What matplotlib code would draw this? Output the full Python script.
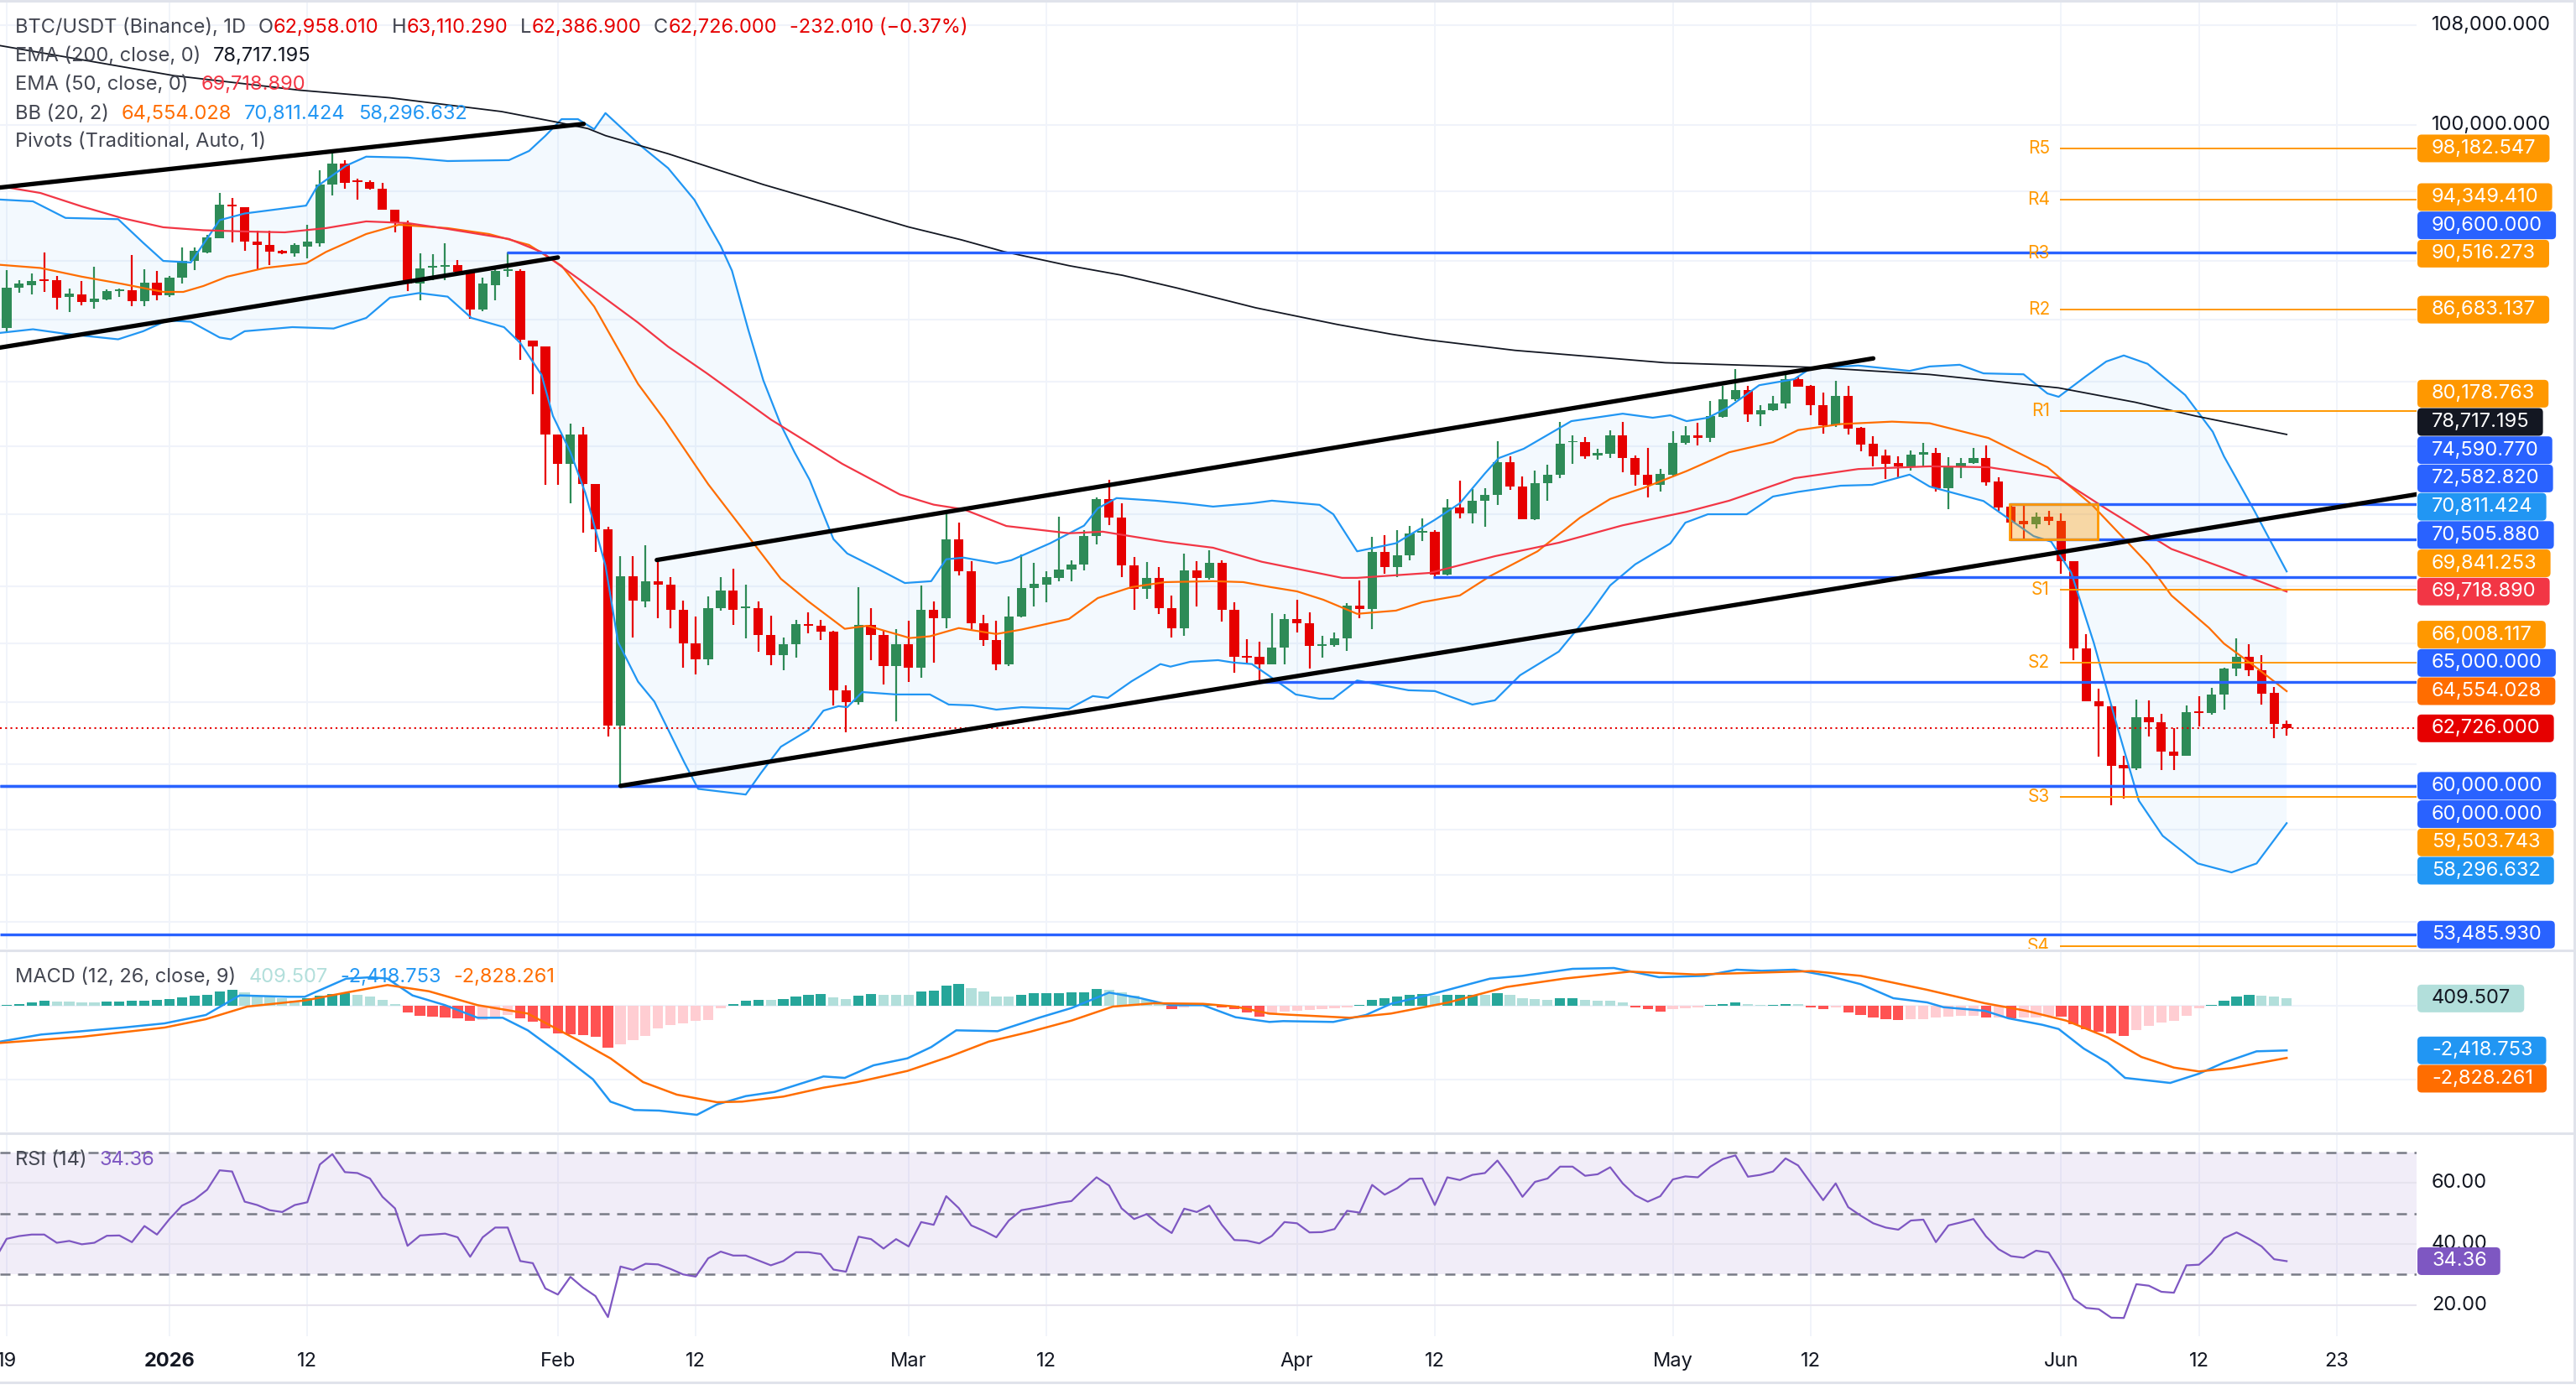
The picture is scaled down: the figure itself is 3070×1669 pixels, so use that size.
import numpy as np
import matplotlib.pyplot as plt
from matplotlib.patches import FancyBboxPatch, Rectangle
from matplotlib.lines import Line2D
from matplotlib.transforms import IdentityTransform

plt.rcParams['font.family'] = ['Inter', 'DejaVu Sans']

# ---------------- data ----------------
# daily candles, day 0 = 19 Dec 2025 ... day 182 = 19 Jun 2026
opens = [85466, 88175, 88365, 88740, 88680, 87555, 87710, 87195, 87380, 87925,
         88010, 87255, 88515, 87645, 88880, 89985, 90625, 91580, 93990, 93830,
         91385, 91100, 90720, 90525, 91035, 91260, 95460, 97050, 95760, 95660,
         95190, 93635, 92650, 88425, 89550, 89615, 89710, 89335, 86675, 88365,
         89300, 89330, 84660, 84275, 78695, 76950, 78695, 75765, 73140, 62870,
         70560, 69210, 70290, 70075, 68760, 67000, 66180, 68820, 69775, 68820,
         68850, 67435, 66395, 66930, 67970, 67900, 67580, 64585, 64000, 67940,
         67405, 65810, 66930, 65740, 68760, 68290, 72605, 70840, 68045, 67175,
         65890, 68380, 69910, 70110, 70475, 70900, 71210, 72760, 74885, 73835,
         71160, 69880, 70445, 68835, 67790, 70870, 70475, 71270, 68760, 66340,
         66300, 65920, 66760, 68235, 68045, 66840, 66900, 67230, 68986, 68790,
         71870, 71060, 71715, 72980, 73020, 70640, 74395, 74075, 74770, 75100,
         77050, 75600, 73715, 75800, 76305, 78230, 78230, 77430, 77550, 78665,
         77315, 76320, 75715, 76320, 78185, 78665, 78530, 79800, 80870, 81465,
         79940, 80190, 80640, 82170, 81725, 80500, 79270, 81115, 79100, 78135,
         77435, 76990, 76800, 77515, 77615, 75530, 76740, 76985, 77290, 75895,
         74445, 73620, 73440, 73850, 73620, 71375, 66723, 64070, 63800, 60975,
         60830, 63250, 63020, 61620, 61425, 63535, 63470, 64390, 65685, 66305,
         65605, 64470, 62958.01]
highs = [89363, 88675, 89115, 90612, 88955, 88110, 88610, 89610, 88050, 88110,
         90400, 89425, 89330, 88975, 90944, 90944, 91835, 94860, 94525, 93830,
         92160, 92160, 90780, 91260, 92530, 96540, 97975, 97290, 95930, 95760,
         95590, 93635, 92880, 90555, 90460, 91240, 90055, 89335, 88880, 89520,
         90620, 89425, 84660, 84275, 78695, 79360, 79165, 75765, 73280, 71660,
         71630, 72260, 71490, 70490, 69240, 68380, 69480, 70490, 70940, 70110,
         69180, 68420, 67290, 68230, 68620, 68190, 67650, 64860, 69955, 68820,
         67690, 67720, 68160, 70030, 69210, 73995, 73515, 71365, 68480, 68160,
         69465, 71730, 71300, 70800, 73870, 71420, 73125, 74965, 76020, 74645,
         71610, 71335, 71050, 69525, 71810, 71365, 71975, 71420, 69135, 67220,
         67070, 68570, 68530, 69285, 68610, 67360, 67540, 69090, 70335, 72750,
         72810, 73130, 73365, 73760, 73100, 74880, 75970, 75450, 75490, 78300,
         77400, 76180, 76550, 76905, 79465, 78665, 78565, 77850, 78990, 79465,
         77435, 77880, 76635, 78920, 79215, 79430, 80765, 81725, 82810, 81725,
         80540, 81115, 82475, 82350, 81760, 81285, 82040, 81705, 79180, 78615,
         77800, 77400, 77765, 78185, 77900, 77340, 77300, 77900, 78055, 76145,
         74595, 74500, 74130, 74220, 74040, 71375, 67470, 64680, 63880, 61400,
         64145, 64115, 63440, 62745, 63850, 64310, 64715, 65735, 67265, 66935,
         66390, 64765, 63110.29]
lows = [85230, 87825, 87705, 87895, 86675, 86520, 86980, 86770, 87290, 87560,
        86890, 86890, 87290, 87555, 88425, 89400, 90560, 91580, 91320, 90740,
        89370, 89740, 90460, 90305, 90180, 91035, 94690, 95190, 94360, 95120,
        93635, 92000, 87955, 87330, 88675, 88675, 89115, 86065, 86580, 87330,
        88900, 83390, 81175, 75710, 75710, 74660, 72945, 71870, 62330, 60050,
        67275, 68880, 68290, 67790, 65720, 65400, 65860, 68690, 67940, 67260,
        66570, 65860, 65600, 66240, 67500, 67170, 63860, 62525, 63890, 66110,
        64890, 63045, 65035, 65220, 65990, 67750, 70610, 67715, 66860, 65600,
        65830, 68330, 68940, 69165, 70290, 70290, 70870, 72290, 73395, 70490,
        68760, 69330, 68530, 67305, 67390, 68910, 70380, 68140, 65500, 65890,
        64970, 65890, 65920, 67535, 65690, 66270, 66800, 66600, 68285, 67720,
        70690, 70490, 71410, 72500, 70410, 70600, 73750, 73485, 73315, 74530,
        75440, 73715, 73670, 74800, 76105, 76970, 77270, 77185, 77300, 76455,
        75665, 74960, 75340, 76270, 78100, 78070, 78275, 79765, 80765, 79500,
        79210, 80150, 80290, 81690, 79890, 78780, 79180, 78690, 77690, 76800,
        76070, 76100, 76550, 76790, 75340, 74320, 76125, 76950, 75660, 74225,
        72535, 72535, 73220, 73400, 70700, 66140, 64035, 61355, 59090, 59425,
        60720, 62345, 60720, 60720, 61400, 62810, 63390, 63630, 65330, 65330,
        63875, 62240, 62386.9]
closes = [88175, 88425, 88645, 88615, 87500, 87740, 87195, 87440, 87925, 88050,
          87255, 88515, 87645, 88880, 89985, 90720, 91645, 93990, 93860, 91385,
          91100, 90650, 90525, 91100, 91385, 95460, 97050, 95590, 95660, 95190,
          93635, 92650, 88425, 89490, 89680, 89740, 89270, 86675, 88425, 89300,
          89425, 84690, 84275, 78695, 76950, 78695, 75765, 73140, 62870, 70560,
          69220, 70290, 70075, 68760, 67000, 66180, 68820, 69775, 68760, 68880,
          67435, 66395, 66930, 67970, 67900, 67580, 64585, 64000, 67940, 67405,
          65810, 66930, 65740, 68760, 68290, 72605, 70840, 68045, 67175, 65890,
          68380, 69910, 70140, 70490, 70930, 71210, 72760, 74885, 73835, 71160,
          69880, 70445, 68835, 67790, 70870, 70475, 71270, 68760, 66300, 66270,
          65920, 66760, 68235, 68045, 66840, 66900, 67230, 68986, 68790, 71870,
          71060, 71715, 72915, 73055, 70640, 74395, 74075, 74770, 75100, 77050,
          75600, 73715, 75800, 76305, 78150, 78300, 77400, 77600, 78665, 77315,
          76320, 75715, 76355, 78185, 78665, 78530, 79840, 80887, 81465, 79940,
          80190, 80640, 82170, 81690, 80500, 79270, 81115, 79060, 78100, 77400,
          76940, 76800, 77515, 77630, 75530, 76740, 76985, 77290, 75845, 74410,
          73545, 73440, 73850, 73630, 71375, 66723, 64070, 63800, 60948, 60830,
          63250, 63020, 61620, 61425, 63535, 63470, 64390, 65685, 66305, 65605,
          64440, 62958, 62726]

# indicator readings (day, value)
ema200_day = [-0.53, 13.3, 23.4, 30.6, 39.5, 43.9, 46.4, 47.8, 52.8, 60.4, 66.9, 72.0, 76.2,
              79.6, 84.8, 89.1, 93.4, 99.7, 106.2, 110.5, 113.3, 120.4, 132.4, 144.4, 153.5,
              163.8, 169.9, 174.7, 182]
ema200_val = [106300, 103870, 102700, 102100, 101020, 100200, 99700, 99160, 97780, 95480,
              93750, 92400, 91490, 90660, 89680, 89010, 88150, 86810, 85700, 85060, 84700,
              84000, 83200, 82900, 82450, 81600, 80700, 79850, 78717.195]

ema50_day = [-0.53, 2.7, 6.0, 9.2, 12.5, 15.7, 19.0, 22.2, 25.5, 28.7, 32.0, 35.2, 40.1, 42.7,
             46.2, 50.4, 52.8, 55.9, 61.0, 66.7, 71.3, 74.0, 76.4, 79.8, 84.8, 87.5, 92.5, 96.3,
             100.2, 106.6, 107.8, 113.6, 118.8, 123.9, 129.0, 134.1, 137.5, 142.7, 147.8, 153.5,
             158.2, 163.8, 167.6, 172.8, 177.0, 182]
ema50_val = [95360, 94860, 93880, 93040, 92380, 92170, 92080, 92020, 92320, 92800, 92680, 92260,
             91550, 90630, 88430, 85820, 84240, 82520, 79630, 76950, 75150, 74560, 74290, 73340,
             72930, 73020, 72450, 72120, 71340, 70460, 70460, 70730, 71650, 72400, 73380, 74150,
             74790, 76100, 76640, 76800, 76750, 76100, 74320, 72050, 71000, 69718.89]

bb_mid_day = [-0.53, 2.7, 6.0, 9.2, 12.5, 14.1, 15.7, 17.6, 20.6, 23.9, 25.5, 28.7, 31.3, 35.2,
              38.5, 41.7, 44.3, 46.9, 50.4, 52.5, 56.0, 61.8, 64.0, 66.9, 68.7, 72.1, 73.7, 76.0,
              79.0, 81.0, 84.8, 87.1, 89.8, 92.5, 96.3, 98.7, 100.9, 103.0, 105.1, 107.8, 110.9,
              113.0, 116.0, 118.4, 122.2, 125.6, 128.0, 130.7, 134.1, 137.5, 141.0, 143.0, 146.4,
              150.5, 153.5, 158.2, 162.9, 166.5, 171.0, 172.8, 175.8, 177.0, 179.4, 182]
bb_mid_val = [89740, 89520, 88920, 88430, 87880, 87880, 88280, 88920, 89520, 89840, 90640, 91900,
              92560, 92320, 91900, 91130, 89670, 86890, 81850, 79630, 75750, 70410, 69190, 67740,
              67900, 67260, 67350, 67780, 67470, 67700, 68260, 69370, 69960, 70230, 70280, 70230,
              69960, 69730, 69280, 68530, 68700, 69150, 69510, 70550, 71920, 73820, 74890, 75540,
              76520, 77640, 78250, 78980, 79350, 79500, 79400, 78500, 76750, 74520, 71180, 69510,
              67790, 66970, 65830, 64554.028]

bb_up_day = [-0.53, 2.1, 4.7, 8.9, 10.9, 12.5, 14.7, 17.0, 19.0, 23.9, 24.8, 27.1, 28.7, 32.0,
             35.2, 40.1, 41.7, 43.0, 44.3, 45.6, 46.9, 47.8, 50.6, 52.8, 54.9, 57.0, 57.9, 59.2,
             60.4, 61.8, 62.9, 64.1, 65.2, 66.0, 67.1, 69.4, 71.7, 73.8, 75.0, 76.4, 79.0, 80.2,
             83.3, 86.0, 87.1, 88.6, 91.7, 94.0, 96.3, 99.4, 101.0, 104.8, 105.9, 107.8, 110.9,
             114.0, 116.0, 118.0, 119.1, 121.1, 124.9, 129.0, 131.4, 132.8, 134.1, 135.8, 137.5,
             139.9, 142.7, 144.0, 147.8, 151.9, 153.5, 155.9, 157.8, 161.0, 162.9, 163.8, 166.0,
             167.6, 169.0, 170.9, 173.9, 176.1, 177.0, 179.4, 182]
bb_up_val = [94380, 94250, 93050, 92960, 91280, 90010, 89900, 92890, 93370, 93940, 95360, 96880,
             97560, 97490, 97230, 97300, 97990, 99140, 100430, 100430, 99650, 100900, 98400, 96700,
             94360, 91050, 89330, 85350, 82080, 79300, 77630, 76000, 74010, 72600, 71800, 71000,
             70180, 70280, 71480, 71570, 71250, 71430, 72370, 73360, 74350, 74940, 74790, 74640,
             74450, 74640, 74790, 74550, 74010, 71920, 72370, 73690, 74640, 76380, 77290, 77850,
             79530, 79990, 79740, 79890, 79530, 79740, 80410, 81770, 82150, 82850, 83020, 82680,
             82960, 83070, 82520, 82460, 81250, 81040, 82350, 83280, 83670, 83130, 81150, 78880,
             77390, 74240, 70811.424]

bb_lo_day = [-0.53, 2.1, 4.7, 8.9, 10.9, 12.8, 14.7, 17.0, 17.9, 19.0, 22.8, 26.1, 28.7, 30.6,
             32.9, 35.2, 37.1, 39.7, 41.0, 42.7, 43.6, 45.0, 46.2, 47.8, 48.8, 50.4, 51.7, 54.1,
             55.2, 59.0, 60.2, 61.8, 64.0, 65.2, 66.4, 67.1, 68.3, 71.0, 73.7, 75.2, 77.1, 79.0,
             81.0, 84.8, 86.7, 87.9, 89.8, 92.1, 92.9, 94.5, 96.7, 97.9, 99.4, 101.4, 102.9, 104.8,
             105.9, 107.8, 111.9, 114.0, 117.0, 118.8, 120.8, 123.9, 126.3, 128.0, 130.0, 132.8,
             134.0, 135.8, 138.9, 141.0, 143.0, 146.4, 148.9, 151.9, 153.5, 157.8, 159.4, 161.8,
             163.2, 164.8, 166.6, 168.5, 170.2, 172.1, 174.9, 177.6, 179.6, 182]
bb_lo_val = [85140, 85380, 85080, 84720, 85250, 85960, 85880, 84840, 84720, 85250, 85520, 85430,
             86130, 87490, 87800, 87560, 86130, 85520, 84480, 82420, 79860, 77650, 75220, 71130,
             67060, 65030, 64040, 61090, 59860, 59600, 60590, 61840, 62640, 63590, 63810, 63760,
             64510, 64390, 64390, 63890, 63850, 63640, 63760, 63680, 64310, 64220, 65050, 65920,
             65790, 66040, 66120, 66000, 65920, 65050, 64390, 64180, 64180, 65090, 64600, 64560,
             63890, 64100, 65350, 66560, 68470, 70050, 71200, 72360, 73530, 74010, 74010, 75030,
             75300, 75660, 75710, 76310, 75610, 74770, 73960, 72770, 72460, 70750, 67020, 62760,
             59320, 57730, 56510, 56120, 56510, 58296.632]

macd_day = [-0.5, 2.75, 6.0, 9.3, 12.6, 15.9, 18.6, 22.5, 23.8, 27.1, 29.1, 30.4, 32.4, 35.0,
            37.6, 39.6, 41.6, 44.2, 46.8, 48.2, 50.1, 52.1, 55.1, 56.7, 59.0, 61.3, 65.2, 66.9,
            69.2, 71.9, 73.8, 75.8, 79.1, 82.4, 85.0, 88.0, 90.3, 92.9, 95.5, 98.1, 100.8, 101.9,
            105.9, 108.5, 110.5, 113.8, 118.4, 121.0, 125.0, 128.3, 131.9, 135.5, 138.1, 140.1,
            142.7, 145.4, 148.0, 150.6, 153.3, 154.6, 157.9, 159.8, 162.5, 163.8, 165.8, 167.7,
            169.1, 172.7, 175.0, 177.0, 179.6, 182.0]
macd_val = [-1937, -1553, -1371, -1174, -946, -489, 576, 502, 502, 1489, 1567, 1489, 576, 46,
            -640, -640, -1325, -2622, -3992, -5208, -5664, -5696, -5925, -5363, -4906, -4678,
            -3837, -3915, -3230, -2850, -2238, -1325, -1371, -640, -110, 731, 457, 46, 46, -612,
            -868, -822, -868, -489, 119, 653, 1489, 1644, 2024, 2069, 1567, 1644, 1978, 1918, 1978,
            1644, 1188, 425, 196, -64, -260, -671, -1023, -1252, -2316, -3079, -3915, -4189, -3686,
            -3079, -2467, -2418.753]
signal_day = [-0.5, 6.0, 12.6, 15.9, 19.2, 23.8, 27.1, 30.4, 33.7, 37.6, 41.6, 45.6, 48.2, 50.8,
              53.5, 56.7, 58.7, 62.0, 65.2, 67.9, 71.9, 75.2, 78.4, 81.7, 85.0, 88.3, 91.6, 95.5,
              98.1, 100.8, 101.9, 107.2, 110.5, 115.1, 119.7, 124.3, 129.6, 134.8, 138.8, 144.1,
              148.0, 153.3, 157.9, 161.2, 164.4, 167.7, 170.4, 173.0, 175.0, 177.6, 182.0]
signal_val = [-2010, -1676, -1174, -717, -32, 301, 731, 1142, 804, 46, -411, -1859, -2850, -4143,
              -4828, -5239, -5208, -4933, -4449, -4143, -3536, -2773, -1937, -1402, -795, -32, 151,
              119, -32, -411, -457, -640, -411, 196, 1032, 1489, 1873, 1718, 1795, 1900, 1644, 882,
              151, -260, -795, -1708, -2773, -3353, -3563, -3380, -2828.261]
# histogram, one bar per candle
hist = [46, 122, 198, 274, 244, 240, 213, 198, 244, 250, 274, 305, 320, 396, 457, 548, 624, 807,
        883, 731, 579, 503, 426, 274, 426, 548, 655, 700, 609, 503, 350, 122,
        -335, -518, -579, -640, -650, -822, -761, -609, -487, -670, -868, -1203, -1477, -1553,
        -1584, -1675, -2284, -2087, -1858, -1630, -1218, -1020, -944, -822, -761, -107,
        122, 305, 350, 335, 396, 503, 609, 655, 457, 396, 579, 655, 609, 600, 590, 807, 853, 1112,
        1188, 959, 807, 503, 495, 609, 700, 700, 700, 731, 761, 914, 900, 731, 548, 350, 122, -183,
        -61, 46, 122, -61, -183, -366, -564, -487,
        -305, -259, -213, -183, -107, -61, 76, 350, 426, 503, 609, 655, 548, 609, 609, 609, 600,
        700, 609, 426, 381, 350, 426, 426, 335, 305, 274, 183, -76, -183, -305, -183, -122, -76,
        46, 122, 198, 122, 76, 76, 122, 110, -61, -183, -76, -335, -487, -640, -716, -761, -730,
        -700, -640, -580, -550, -520, -640, -640, -670, -640, -610, -520, -560, -975, -1249,
        -1401, -1477, -1630, -1325, -1097, -914, -822, -518, -107, 76, 305, 503, 609, 579, 503,
        409.507]
# RSI(14), one value per day from day -1
rsi = [34.5, 41.7, 42.6, 43.1, 43.1, 40.4, 41.0, 39.9, 40.4, 42.7, 42.8, 40.6, 45.9, 43.1, 48.2,
       52.6, 54.6, 57.8, 64.2, 63.8, 53.9, 52.8, 51.1, 50.5, 52.8, 53.7, 66.1, 69.5, 63.6, 63.3,
       61.5, 55.5, 51.7, 39.4, 42.8, 43.1, 43.4, 42.2, 35.8, 42.2, 45.4, 45.4, 34.4, 33.7, 25.4,
       23.4, 29.2, 25.7, 22.9, 16.0, 32.6, 31.5, 33.5, 33.3, 31.8, 30.0, 29.3, 35.3, 37.5, 36.2,
       36.2, 34.6, 33.0, 34.4, 37.3, 37.3, 36.7, 31.6, 30.9, 42.4, 41.6, 38.5, 41.6, 39.2, 47.2,
       46.3, 55.7, 51.8, 46.1, 44.3, 42.2, 47.7, 51.1, 51.8, 52.6, 53.5, 54.1, 58.1, 61.9, 59.2,
       51.7, 48.2, 49.8, 46.3, 43.6, 51.6, 50.5, 52.6, 46.3, 41.3, 41.1, 40.2, 42.7, 47.2, 46.8,
       43.8, 43.9, 44.9, 50.9, 50.3, 59.4, 56.2, 58.3, 61.4, 61.5, 52.8, 61.9, 61.0, 62.7, 63.3,
       67.4, 61.9, 55.5, 60.4, 61.5, 65.4, 65.4, 62.4, 62.9, 65.2, 59.9, 56.0, 53.9, 55.7, 61.2,
       62.2, 61.9, 65.4, 67.9, 69.1, 62.1, 62.7, 63.8, 68.1, 65.8, 60.1, 54.4, 59.9, 52.1, 49.3,
       46.8, 45.4, 44.7, 47.7, 48.0, 40.6, 46.1, 47.1, 48.2, 42.5, 38.3, 36.0, 35.5, 37.8, 37.2,
       30.7, 22.0, 19.0, 18.6, 15.8, 15.7, 26.8, 26.3, 24.3, 24.0, 33.0, 33.2, 36.9, 41.9, 43.8,
       41.7, 39.2, 35.0, 34.36]

# drawings
wedge_top = ([-0.53, 46.06], [95260, 100060])
wedge_bot = ([-0.53, 44.0], [84180, 90250])
chan_bot = ([49.0, 192.4], [60000, 75160])
chan_top = ([51.9, 149.0], [71440, 83480])
h_levels = [90600.0, 74590.77, 72582.82, 70505.88, 65000.0, 60000.0, 60000.0, 53485.93]
h_start = [39.9, 159.9, 159.9, 113.9, 99.8, -0.53, -0.53, -0.53]
zone_days = (159.9, 166.9)
pivot_names = ['R5', 'R4', 'R3', 'R2', 'R1', 'S1', 'S2', 'S3', 'S4']
pivot_levels = [98182.547, 94349.410, 90516.273, 86683.137, 80178.763, 69841.253, 66008.117,
                59503.743, 52999.37]
pivot_start = 163.9
last_close = closes[-1]

tick_days = [0, 13, 24, 44, 55, 72, 83, 103, 114, 133, 144, 164, 175, 186]
tick_labels = ['19', '2026', '12', 'Feb', '12', 'Mar', '12', 'Apr', '12', 'May', '12', 'Jun', '12', '23']
price_ticks = [108000, 100000, 95000, 90000, 86000, 82000, 78000, 74000, 70000, 67000, 64000,
               61000, 58000, 56000, 54000]

# ---------------- colours ----------------
UP, DOWN = '#2E8B57', '#E60000'
BLUE_LINE = '#2962FF'
BB_BLUE = '#2196F3'
BB_ORANGE = '#FF6D00'
PIVOT = '#FF9800'
EMA50_C = '#F23645'
DARK = '#131722'
GRID = '#F0F3FA'
TXT = '#434651'

# ---------------- layout ----------------
W, H = 3070, 1669
PLOT_R = 2880
fig = plt.figure(figsize=(W / 100, H / 100), dpi=100)
fig.patch.set_facecolor('white')


def fx(x):
    return x / W


def fy(y):
    return 1 - y / H


ax = fig.add_axes([0, fy(1131), fx(PLOT_R), 1131 / H])
macd_ax = fig.add_axes([0, fy(1349), fx(PLOT_R), (1349 - 1134) / H])
rsi_ax = fig.add_axes([0, fy(1593), fx(PLOT_R), (1593 - 1352) / H])

xmin, xmax = -0.53, 192.37
for a in (ax, macd_ax, rsi_ax):
    a.set_xlim(xmin, xmax)
    a.axis('off')
    for d in tick_days:
        a.axvline(d, color=GRID, lw=1.3, zorder=0)

# ---------------- price panel ----------------
ax.set_yscale('log')
ax.set_ylim(52907, 110112)
for p in price_ticks:
    ax.axhline(p, color=GRID, lw=1.5, zorder=0)

ax.fill(np.r_[bb_up_day, bb_lo_day[::-1]], np.r_[bb_up_val, bb_lo_val[::-1]],
        color=BB_BLUE, alpha=0.05, lw=0, zorder=1)

days = np.arange(len(closes))
o, h_, l_, c = map(np.asarray, (opens, highs, lows, closes))
col = np.where(c >= o, UP, DOWN)
ax.vlines(days, l_, h_, colors=col, lw=1.6, zorder=3)
body_lo = np.minimum(o, c)
body_h = np.maximum(np.abs(c - o), body_lo * 0.0012)
ax.bar(days, body_h, bottom=body_lo, width=0.75, color=col, lw=0, zorder=3)

ax.plot(bb_up_day, bb_up_val, color=BB_BLUE, lw=1.6, zorder=4)
ax.plot(bb_lo_day, bb_lo_val, color=BB_BLUE, lw=1.6, zorder=4)
ax.plot(bb_mid_day, bb_mid_val, color=BB_ORANGE, lw=1.6, zorder=4)
ax.plot(ema50_day, ema50_val, color=EMA50_C, lw=1.6, zorder=4)
ax.plot(ema200_day, ema200_val, color=DARK, lw=1.3, zorder=4)

for lev, st in zip(h_levels, h_start):
    ax.hlines(lev, st, xmax, color=BLUE_LINE, lw=2.4, zorder=5)

for name, lev in zip(pivot_names, pivot_levels):
    ax.hlines(lev, pivot_start, xmax, color=PIVOT, lw=1.4, zorder=4)
    ax.text(pivot_start - 0.8, lev, name, color=PIVOT, fontsize=15, ha='right', va='center',
            zorder=6, clip_on=True)

ax.add_patch(Rectangle((zone_days[0], h_levels[2]), zone_days[1] - zone_days[0],
                       h_levels[1] - h_levels[2], facecolor=(1.0, 0.6, 0.0, 0.35),
                       edgecolor=PIVOT, lw=2, zorder=5))

for xs, ys in (wedge_top, wedge_bot, chan_bot, chan_top):
    ax.plot(xs, ys, color='black', lw=3.8, solid_capstyle='round', zorder=6)

ax.axhline(last_close, color=DOWN, lw=1.5, ls=(0, (1, 2)), zorder=5)

# ---------------- MACD panel ----------------
macd_ax.set_ylim(-6838, 2983)
for v in (0, -4000):
    macd_ax.axhline(v, color=GRID, lw=1.5, zorder=0)
hcol = []
for k, v in enumerate(hist):
    prev = hist[k - 1] if k > 0 else v
    if v >= 0:
        hcol.append('#26A69A' if v >= prev else '#B2DFDB')
    else:
        hcol.append('#FFCDD2' if v >= prev else '#FF5252')
macd_ax.bar(days, hist, width=0.82, color=hcol, lw=0, zorder=2)
macd_ax.plot(macd_day, macd_val, color=BB_BLUE, lw=1.8, zorder=3)
macd_ax.plot(signal_day, signal_val, color=BB_ORANGE, lw=1.8, zorder=3)

# ---------------- RSI panel ----------------
rsi_ax.set_ylim(9.70, 76.09)
rsi_ax.axhspan(30, 70, color='#7E57C2', alpha=0.1, lw=0, zorder=0)
for v in (60, 40, 20):
    rsi_ax.axhline(v, color='#E6E3EE', lw=1.5, zorder=1)
for v in (70, 50, 30):
    rsi_ax.axhline(v, color='#787B86', lw=1.8, ls=(0, (4.8, 3.6)), zorder=2)
rsi_ax.plot(np.arange(-1, len(rsi) - 1), rsi, color='#7E57C2', lw=1.6, zorder=3)

# ---------------- frame lines ----------------
for yy in (1, 1132.5, 1350.5, 1648):
    fig.add_artist(Line2D([0, 1], [fy(yy)] * 2, transform=fig.transFigure, color='#E0E3EB', lw=2.2))
fig.add_artist(Line2D([fx(3068)] * 2, [fy(1648), fy(1)], transform=fig.transFigure,
                      color='#E0E3EB', lw=2.2))

renderer = fig.canvas.get_renderer()


# ---------------- right-side value tags ----------------
def draw_tag(y, text, bg, fg='white'):
    t = fig.text(fx(2881 + 17), fy(y), text, color=fg, fontsize=17, ha='left', va='center',
                 zorder=7)
    w = t.get_window_extent(renderer).width
    box = FancyBboxPatch((2881, H - y - 16.5), w + 33, 33,
                         boxstyle='round,pad=0,rounding_size=5', transform=IdentityTransform(),
                         fc=bg, ec='none', zorder=6)
    fig.add_artist(box)


def stack_tags(a, entries, anchor=None, gap=33.7):
    ys = [H - a.transData.transform((0, e[0]))[1] for e in entries]
    order = sorted(range(len(entries)), key=lambda k: (ys[k], k))
    pos = {}
    if anchor is None:
        prev = None
        for k in order:
            pos[k] = ys[k] if prev is None else max(ys[k], prev + gap)
            prev = pos[k]
    else:
        pos[anchor] = ys[anchor]
        above = [k for k in order if ys[k] < ys[anchor]][::-1]
        below = [k for k in order if ys[k] >= ys[anchor] and k != anchor]
        prev = ys[anchor]
        for k in above:
            pos[k] = min(ys[k], prev - gap)
            prev = pos[k]
        prev = ys[anchor]
        for k in below:
            pos[k] = max(ys[k], prev + gap)
            prev = pos[k]
    for k, e in enumerate(entries):
        draw_tag(pos[k], *e[1:])
    return list(pos.values())


price_tags = [(lev, f'{lev:,.3f}', PIVOT) for lev in pivot_levels[:-1]]
price_tags += [(lev, f'{lev:,.3f}', BLUE_LINE) for lev in h_levels]
price_tags += [(ema200_val[-1], f'{ema200_val[-1]:,.3f}', DARK),
               (ema50_val[-1], f'{ema50_val[-1]:,.3f}', EMA50_C),
               (bb_up_val[-1], f'{bb_up_val[-1]:,.3f}', BB_BLUE),
               (bb_lo_val[-1], f'{bb_lo_val[-1]:,.3f}', BB_BLUE),
               (bb_mid_val[-1], f'{bb_mid_val[-1]:,.3f}', BB_ORANGE),
               (last_close, f'{last_close:,.3f}', DOWN)]
tag_y = stack_tags(ax, price_tags, anchor=len(price_tags) - 1)

stack_tags(macd_ax, [(hist[-1], f'{hist[-1]:,.3f}', '#B2DFDB', DARK),
                     (macd_val[-1], f'{macd_val[-1]:,.3f}', BB_BLUE),
                     (signal_val[-1], f'{signal_val[-1]:,.3f}', BB_ORANGE)])
stack_tags(rsi_ax, [(rsi[-1], f'{rsi[-1]:.2f}', '#7E57C2')])

# ---------------- axis labels ----------------
AXIS_X = 2898
for p in price_ticks:
    yp = H - ax.transData.transform((0, p))[1]
    if 10 < yp < 1120 and min(abs(yp - t) for t in tag_y) > 26:
        fig.text(fx(AXIS_X), fy(yp), f'{p:,.3f}', color=DARK, fontsize=17, ha='left',
                 va='center', zorder=2)
for v in (60, 40, 20):
    yp = H - rsi_ax.transData.transform((0, v))[1]
    fig.text(fx(AXIS_X), fy(yp), f'{v:.2f}', color=DARK, fontsize=17, ha='left', va='center',
             zorder=2)
for d, lab in zip(tick_days, tick_labels):
    xp = ax.transData.transform((d, 60000))[0]
    fig.text(fx(xp), fy(1623), lab, color=DARK, fontsize=17, ha='center', va='center',
             fontweight='bold' if lab == '2026' else 'normal')


# ---------------- legends ----------------
def rich(x, y, parts, size=17):
    for s, colr, gap in parts:
        t = fig.text(fx(x), fy(y), s, color=colr, fontsize=size, ha='left', va='center', zorder=8)
        x += t.get_window_extent(renderer).width + gap


chg = last_close - opens[-1]
rich(18, 33, [('BTC/USDT (Binance), 1D', TXT, 15),
              ('O', TXT, 0), (f'{opens[-1]:,.3f}', DOWN, 15),
              ('H', TXT, 0), (f'{highs[-1]:,.3f}', DOWN, 15),
              ('L', TXT, 0), (f'{lows[-1]:,.3f}', DOWN, 15),
              ('C', TXT, 0), (f'{last_close:,.3f}', DOWN, 15),
              (f'{chg:,.3f} (\u2212{abs(chg) / opens[-1] * 100:.2f}%)', DOWN, 0)])
rich(18, 67, [('EMA (200, close, 0)', TXT, 15), (f'{ema200_val[-1]:,.3f}', DARK, 0)])
rich(18, 101, [('EMA (50, close, 0)', TXT, 15), (f'{ema50_val[-1]:,.3f}', EMA50_C, 0)])
rich(18, 136, [('BB (20, 2)', TXT, 15), (f'{bb_mid_val[-1]:,.3f}', BB_ORANGE, 15),
               (f'{bb_up_val[-1]:,.3f}', BB_BLUE, 15), (f'{bb_lo_val[-1]:,.3f}', BB_BLUE, 0)])
rich(18, 169, [('Pivots (Traditional, Auto, 1)', TXT, 0)])
rich(18, 1165, [('MACD (12, 26, close, 9)', TXT, 15), (f'{hist[-1]:,.3f}', '#B2DFDB', 15),
                (f'{macd_val[-1]:,.3f}', BB_BLUE, 15), (f'{signal_val[-1]:,.3f}', BB_ORANGE, 0)])
rich(18, 1383, [('RSI (14)', TXT, 15), (f'{rsi[-1]:.2f}', '#7E57C2', 0)])

fig.savefig('out.png', dpi=100, facecolor='white')
